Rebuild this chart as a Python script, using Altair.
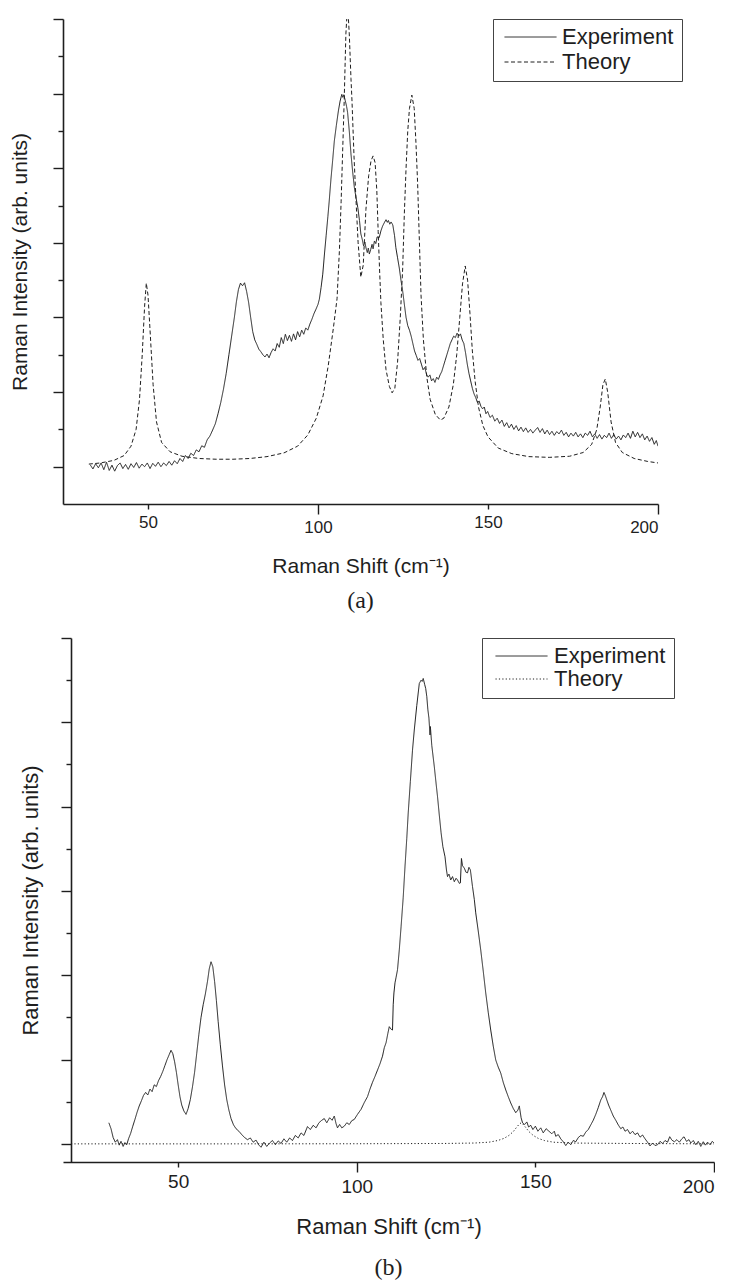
import altair as alt
import pandas as pd

# ---------------- data ----------------
# Panel (a): experiment
top_exp_x = [33.0, 33.8, 34.6, 35.4, 36.2, 37.0, 37.8, 38.6, 39.4, 40.2, 41.0, 41.8, 42.6, 43.4, 44.2, 45.0, 45.8,
             46.6, 47.4, 48.2, 49.0, 49.8, 50.6, 51.4, 52.2, 53.0, 53.8, 54.6, 55.4, 56.2, 57.0, 57.8, 58.6, 59.4,
             60.2, 61.0, 61.8, 62.6, 63.4, 64.2, 65.0, 65.8, 66.6, 67.4, 68.2, 69.0, 69.8, 70.6, 71.4, 72.2, 73.0,
             73.8, 74.6, 75.4, 76.0, 76.6, 77.2, 77.8, 78.4, 79.0, 79.6, 80.2, 80.8, 81.4, 82.0, 82.6, 83.2, 83.8,
             84.4, 85.0, 85.6, 86.2, 86.8, 87.4, 88.0, 88.6, 89.2, 89.8, 90.4, 91.0, 91.6, 92.2, 92.8, 93.4, 94.0,
             94.6, 95.2, 95.8, 96.4, 97.0, 97.6, 98.2, 98.8, 99.4, 100.0, 100.4, 100.9, 101.4, 101.9, 102.4, 102.9,
             103.3, 103.8, 104.3, 104.8, 105.4, 106.0, 106.5, 107.0, 107.3, 107.6, 108.0, 108.4, 108.7, 109.2, 109.7,
             110.2, 110.7, 111.2, 111.7, 112.2, 112.6, 113.0, 113.4, 113.8, 114.1, 114.5, 114.8, 115.1, 115.5, 115.9,
             116.2, 116.6, 117.0, 117.4, 118.0, 118.5, 119.0, 119.5, 120.0, 120.4, 120.7, 121.1, 121.5, 122.0, 122.5,
             122.9, 123.4, 123.9, 124.4, 124.9, 125.4, 125.9, 126.4, 126.9, 127.4, 127.9, 128.4, 128.9, 129.4, 129.9,
             130.4, 130.9, 131.4, 131.9, 132.4, 132.9, 133.4, 133.9, 134.4, 134.9, 135.4, 135.9, 136.4, 136.9, 137.4,
             137.9, 138.4, 138.9, 139.4, 139.9, 140.4, 140.9, 141.4, 141.9, 142.4, 142.9, 143.4, 143.9, 144.4, 144.9,
             145.4, 145.9, 146.4, 146.9, 147.4, 147.9, 148.4, 148.9, 149.4, 149.9, 150.6, 151.3, 152.0, 152.7, 153.4,
             154.1, 154.8, 155.5, 156.2, 156.9, 157.6, 158.3, 159.0, 159.7, 160.4, 161.1, 161.8, 162.5, 163.2, 163.9,
             164.6, 165.3, 166.0, 166.7, 167.4, 168.1, 168.8, 169.5, 170.2, 170.9, 171.6, 172.3, 173.0, 173.7, 174.4,
             175.1, 175.8, 176.5, 177.2, 177.9, 178.6, 179.3, 180.0, 180.7, 181.4, 182.1, 182.8, 183.5, 184.2, 184.9,
             185.6, 186.3, 187.0, 187.7, 188.4, 189.1, 189.8, 190.5, 191.2, 191.9, 192.6, 193.3, 194.0, 194.7, 195.4,
             196.1, 196.8, 197.5, 198.2, 198.9, 199.5, 200.0]
top_exp_y = [0.05, -0.06, 0.08, -0.03, 0.1, -0.08, 0.12, -0.1, 0.04, -0.12, 0.03, 0.1, -0.05, 0.06, -0.07, 0.08, -0.02,
             0.11, -0.04, 0.07, 0.0, 0.1, -0.05, 0.09, 0.01, 0.12, 0.0, 0.1, 0.03, 0.14, 0.04, 0.16, 0.08, 0.22,
             0.14, 0.3, 0.22, 0.36, 0.3, 0.45, 0.4, 0.56, 0.52, 0.72, 0.82, 0.98, 1.15, 1.42, 1.72, 2.08, 2.5,
             3.0, 3.5, 4.0, 4.42, 4.75, 4.92, 4.85, 4.93, 4.7, 4.4, 4.0, 3.62, 3.4, 3.28, 3.15, 3.08, 3.0,
             2.94, 3.02, 2.92, 3.06, 3.16, 3.1, 3.3, 3.2, 3.46, 3.3, 3.55, 3.38, 3.52, 3.36, 3.56, 3.4, 3.62,
             3.48, 3.66, 3.55, 3.72, 3.66, 3.82, 3.95, 4.1, 4.22, 4.35, 4.49, 4.8, 5.16, 5.7, 6.2, 6.7,
             7.12, 7.7, 8.2, 8.73, 9.15, 9.54, 9.8, 9.98, 9.9, 9.97, 9.82, 9.66, 9.5, 9.0, 8.38,
             7.9, 7.48, 7.2, 6.95, 6.6, 6.24, 6.1, 5.92, 6.02, 5.87, 5.74, 5.86, 5.7, 5.82, 5.96,
             5.84, 6.05, 5.98, 6.16, 6.14, 6.32, 6.45, 6.54, 6.62, 6.55, 6.6, 6.5, 6.56, 6.48, 6.2,
             5.87, 5.6, 5.33, 5.0, 4.71, 4.35, 4.0, 3.78, 3.66, 3.5, 3.3, 3.1, 2.98, 2.85, 2.9,
             2.75, 2.6, 2.66, 2.48, 2.4, 2.46, 2.3, 2.36, 2.26, 2.4, 2.34, 2.46, 2.55, 2.7, 2.85,
             3.0, 3.15, 3.3, 3.4, 3.5, 3.46, 3.58, 3.5, 3.56, 3.4, 3.3, 3.05, 2.75, 2.5, 2.3,
             2.1, 1.95, 1.85, 1.72, 1.76, 1.62, 1.55, 1.6, 1.42, 1.48, 1.32, 1.38, 1.22, 1.3, 1.16,
             1.25, 1.08, 1.18, 1.04, 1.14, 1.0, 1.1, 0.96, 1.06, 0.94, 1.04, 0.92, 1.0, 0.9, 0.98,
             1.05, 0.92, 1.02, 0.88, 0.98, 0.86, 0.95, 0.84, 0.94, 0.88, 0.98, 0.84, 0.92, 0.8, 0.9,
             0.82, 0.92, 0.8, 0.88, 0.78, 0.9, 0.84, 0.95, 0.8, 0.88, 0.76, 0.86, 0.74, 0.84, 0.78,
             0.9, 0.76, 0.86, 0.74, 0.82, 0.72, 0.85, 0.78, 0.9, 0.76, 0.95, 0.8, 0.92, 0.78, 0.88,
             0.72, 0.82, 0.68, 0.78, 0.6, 0.7, 0.55]

# Panel (a): theory
top_th_x = [32.6, 36.0, 40.0, 43.0, 45.0, 46.5, 47.5, 48.3, 49.0, 49.5, 50.0, 50.7, 51.5, 52.5, 54.0, 56.5, 60.0,
            65.0, 70.0, 75.0, 80.0, 85.0, 90.0, 94.0, 97.0, 99.5, 101.5, 103.0, 104.5, 105.6, 106.3, 106.8, 107.3,
            107.7, 108.2, 108.7, 109.2, 109.7, 110.0, 110.6, 111.2, 111.8, 112.6, 113.3, 114.1, 114.9, 115.6, 116.2,
            116.8, 117.3, 117.7, 118.1, 118.5, 119.2, 120.0, 121.0, 121.8, 122.6, 123.4, 124.2, 124.9, 125.4, 125.9,
            126.4, 126.9, 127.6, 128.3, 128.8, 129.3, 129.8, 130.3, 131.0, 132.0, 133.0, 134.5, 136.0, 137.0, 138.5,
            139.8, 140.8, 141.7, 142.5, 143.3, 144.0, 144.7, 145.4, 146.2, 147.2, 148.5, 150.0, 153.0, 157.0, 162.0,
            168.0, 174.0, 178.0, 180.5, 182.0, 183.0, 183.8, 184.5, 185.2, 186.2, 187.5, 189.5, 193.0, 197.0, 200.0]
top_th_y = [0.07, 0.1, 0.17, 0.3, 0.55, 1.0, 1.8, 3.0, 4.3, 4.92, 4.6, 3.5, 2.2, 1.2, 0.65, 0.4, 0.28,
            0.22, 0.2, 0.2, 0.22, 0.27, 0.37, 0.55, 0.85, 1.3, 1.9, 2.7, 3.7, 4.5, 5.8, 7.1, 8.6,
            9.8, 11.6, 12.4, 11.6, 10.4, 9.8, 8.3, 7.1, 6.0, 5.08, 5.4, 6.9, 7.8, 8.2, 8.33,
            8.15, 7.4, 6.3, 5.3, 4.4, 3.4, 2.6, 2.15, 1.98, 2.1, 2.8, 4.0, 5.3, 6.8, 8.0,
            9.0, 9.6, 9.96, 9.6, 8.7, 7.6, 6.1, 4.6, 3.4, 2.4, 1.8, 1.4, 1.25, 1.3, 1.6,
            2.2, 3.0, 4.0, 4.9, 5.38, 5.0, 4.1, 3.1, 2.3, 1.6, 1.1, 0.8, 0.5, 0.35, 0.27,
            0.25, 0.28, 0.38, 0.6, 1.0, 1.6, 2.2, 2.35, 2.0, 1.2, 0.65, 0.38, 0.22, 0.14, 0.1]

# Panel (b): experiment
bot_exp_x = [30.6, 31.2, 31.8, 32.4, 33.0, 33.5, 34.0, 34.6, 35.1, 35.6, 36.1, 36.7, 37.3, 37.9, 38.5, 39.1, 39.7,
             40.3, 40.9, 41.5, 42.1, 42.7, 43.3, 43.9, 44.5, 45.1, 45.7, 46.3, 46.9, 47.5, 48.0, 48.5, 49.0, 49.5,
             50.0, 50.5, 51.0, 51.6, 52.2, 52.8, 53.4, 54.0, 54.6, 55.2, 55.8, 56.4, 57.0, 57.6, 58.2, 58.7, 59.2,
             59.7, 60.2, 60.7, 61.2, 61.8, 62.4, 63.0, 63.6, 64.2, 64.8, 65.5, 66.2, 67.0, 67.8, 68.6, 69.4, 70.2,
             71.0, 71.8, 72.5, 73.2, 74.0, 74.8, 75.6, 76.4, 77.2, 78.0, 78.8, 79.6, 80.4, 81.2, 82.0, 82.8, 83.6,
             84.4, 85.2, 86.2, 87.0, 87.8, 88.6, 89.4, 90.2, 90.9, 91.6, 92.4, 93.1, 93.7, 94.2, 94.6, 95.2, 95.8,
             96.5, 97.2, 97.9, 98.6, 99.3, 100.2, 101.2, 102.1, 103.0, 103.7, 104.4, 105.1, 105.8, 106.5, 107.2,
             107.7, 108.2, 108.7, 109.1, 109.6, 110.0, 110.2, 110.4, 110.7, 111.0, 111.4, 111.9, 112.4, 113.0, 113.5,
             114.0, 114.4, 115.0, 115.6, 116.1, 116.8, 117.5, 118.0, 118.3, 118.6, 119.0, 119.3, 119.6, 119.9, 120.2,
             120.5, 120.6, 121.0, 121.7, 122.2, 122.6, 123.1, 123.6, 124.1, 124.7, 125.1, 125.4, 125.8, 126.3, 126.8,
             127.3, 127.8, 128.2, 128.7, 129.0, 129.3, 129.6, 130.1, 130.6, 131.0, 131.4, 131.8, 132.4, 132.9, 133.3,
             134.0, 134.7, 135.4, 136.1, 136.8, 137.5, 138.2, 138.9, 139.6, 140.3, 141.0, 141.7, 142.4, 143.1, 143.8,
             144.5, 145.1, 145.5, 146.0, 146.4, 147.0, 147.6, 148.1, 148.7, 149.3, 150.0, 150.7, 151.5, 152.2, 153.0,
             153.8, 154.6, 155.3, 155.7, 156.4, 157.1, 157.8, 158.5, 159.2, 159.9, 160.6, 161.3, 162.0, 162.7, 163.4,
             164.1, 164.8, 165.5, 166.2, 166.9, 167.6, 168.3, 168.8, 169.2, 169.6, 170.0, 170.5, 171.1, 171.8, 172.5,
             173.2, 173.9, 174.5, 175.1, 175.8, 176.5, 177.2, 177.9, 178.6, 179.3, 180.0, 180.7, 181.4, 182.1, 182.8,
             183.5, 184.2, 184.9, 185.6, 186.3, 187.0, 187.6, 188.2, 188.9, 189.6, 190.3, 191.0, 191.6, 192.3, 193.0,
             193.5, 194.2, 194.9, 195.6, 196.3, 197.0, 197.6, 198.2, 198.9, 199.5, 200.0]
bot_exp_y = [0.5, 0.36, 0.15, 0.04, 0.1, -0.03, 0.06, -0.06, 0.03, -0.02, 0.12, 0.25, 0.42, 0.58, 0.75, 0.9, 1.02,
             1.15, 1.22, 1.16, 1.3, 1.24, 1.4, 1.36, 1.5, 1.6, 1.72, 1.86, 2.0, 2.12, 2.22, 2.14, 1.95, 1.7,
             1.4, 1.12, 0.92, 0.78, 0.7, 0.84, 1.05, 1.35, 1.7, 2.15, 2.6, 3.0, 3.3, 3.55, 3.85, 4.15, 4.32,
             4.2, 3.85, 3.4, 2.9, 2.35, 1.85, 1.4, 1.05, 0.8, 0.6, 0.45, 0.36, 0.3, 0.22, 0.15, 0.1, 0.14,
             0.04, 0.09, -0.02, -0.08, 0.04, -0.06, 0.02, 0.08, -0.02, 0.07, 0.01, 0.12, 0.04, 0.14, 0.08, 0.2, 0.14,
             0.26, 0.2, 0.41, 0.34, 0.44, 0.38, 0.5, 0.56, 0.6, 0.5, 0.62, 0.56, 0.66, 0.48, 0.38, 0.46, 0.38,
             0.42, 0.5, 0.46, 0.55, 0.58, 0.7, 0.82, 0.98, 1.12, 1.3, 1.46, 1.6, 1.75, 1.9, 2.08,
             2.28, 2.4, 2.62, 2.78, 2.72, 2.7, 3.3, 3.58, 3.82, 3.95, 4.13, 4.6, 5.15, 5.85, 6.58,
             7.25, 7.85, 8.6, 9.34, 9.82, 10.4, 10.92, 11.0, 10.97, 11.04, 10.9, 10.8, 10.61, 10.3, 10.1,
             9.7, 9.9, 9.45, 8.95, 8.55, 8.24, 7.8, 7.38, 7.05, 6.81, 6.5, 6.34, 6.4, 6.26, 6.34,
             6.22, 6.3, 6.26, 6.18, 6.19, 6.77, 6.6, 6.54, 6.44, 6.43, 6.56, 6.5, 6.1, 5.8, 5.48,
             5.05, 4.6, 4.1, 3.58, 3.12, 2.7, 2.32, 1.99, 1.82, 1.68, 1.46, 1.28, 1.12, 0.97, 0.84,
             0.74, 0.8, 0.9, 0.62, 0.5, 0.46, 0.52, 0.4, 0.44, 0.34, 0.42, 0.3, 0.38, 0.26, 0.36,
             0.3, 0.24, 0.3, 0.18, 0.22, 0.12, 0.05, -0.04, 0.04, -0.02, 0.08, 0.05, 0.15, 0.2, 0.18,
             0.28, 0.34, 0.45, 0.56, 0.7, 0.86, 1.04, 1.12, 1.22, 1.14, 1.04, 0.92, 0.8, 0.66, 0.56,
             0.45, 0.36, 0.4, 0.3, 0.34, 0.24, 0.3, 0.22, 0.26, 0.16, 0.21, 0.12, 0.04, -0.05, 0.02,
             -0.04, -0.02, 0.06, 0.01, 0.08, 0.04, 0.17, 0.09, 0.05, 0.1, 0.04, 0.12, 0.17, 0.06, 0.1,
             0.02, 0.08, -0.02, 0.06, -0.06, 0.05, -0.03, 0.04, -0.02, 0.06, 0.02]

# Panel (b): theory
bot_th_x = [20.0, 60.0, 100.0, 125.0, 133.0, 137.0, 139.5, 141.2, 142.6, 143.8, 144.8, 145.5, 146.0, 146.5,
            147.2, 148.2, 149.4, 150.8, 152.5, 155.0, 160.0, 175.0, 200.0]
bot_th_y = [0.0, 0.0, 0.003, 0.01, 0.02, 0.04, 0.08, 0.13, 0.2, 0.29, 0.4, 0.47, 0.5, 0.47,
            0.4, 0.29, 0.2, 0.13, 0.08, 0.04, 0.02, 0.01, 0.0]

series_names = ["Experiment", "Theory"]
x_title = "Raman Shift (cm⁻¹)"
y_title = "Raman Intensity (arb. units)"


def frame(xs, ys, name):
    return pd.DataFrame({"shift": xs, "intensity": ys, "series": name})


top_df = pd.concat([frame(top_exp_x, top_exp_y, "Experiment"),
                    frame(top_th_x, top_th_y, "Theory")], ignore_index=True)
bot_df = pd.concat([frame(bot_exp_x, bot_exp_y, "Experiment"),
                    frame(bot_th_x, bot_th_y, "Theory")], ignore_index=True)

FONT = "Liberation Sans"
INK = "#1e1e1e"


def cond(test, big, small):
    return {"condition": {"test": test, "value": big}, "value": small}


def panel(df, xdom, ydom, w, h, dashes, legend_x, lab_size, title_size, leg_size,
          leg_pad, sym_off, lab_off, clip_h, row_pad, y_offset, y_title_pad,
          caption, cap_off):
    return alt.Chart(df).mark_line(strokeWidth=1, color=INK, clip=True).encode(
        x=alt.X("shift:Q",
                scale=alt.Scale(domain=xdom, nice=False, zero=False),
                axis=alt.Axis(values=[50, 100, 150, 200], title=x_title,
                              tickSize=cond("datum.value % 100 === 0", 10, 5),
                              labelFontSize=lab_size, titleFontSize=title_size,
                              labelPadding=5, titlePadding=20)),
        y=alt.Y("intensity:Q",
                scale=alt.Scale(domain=ydom, nice=False, zero=False),
                axis=alt.Axis(values=list(range(13)), labels=False, title=y_title,
                              tickSize=cond("datum.value % 2 === 0", 10, 5),
                              titleFontSize=title_size, titlePadding=y_title_pad,
                              offset=y_offset)),
        strokeDash=alt.StrokeDash(
            "series:N",
            scale=alt.Scale(domain=series_names, range=dashes),
            legend=alt.Legend(title=None, orient="none", legendX=legend_x, legendY=0,
                              direction="vertical", symbolType="stroke", symbolSize=2704,
                              symbolStrokeWidth=1, symbolStrokeColor=INK,
                              symbolOffset=sym_off, clipHeight=clip_h, rowPadding=row_pad,
                              labelFontSize=leg_size, labelFont=FONT, labelColor=INK,
                              labelOffset=lab_off, padding=leg_pad, strokeColor="#444444",
                              fillColor="white", cornerRadius=0, labelLimit=0)),
    ).properties(
        width=w, height=h,
        title=alt.TitleParams(caption, orient="bottom", frame="group", anchor="middle",
                              font="Liberation Serif", fontSize=24, fontWeight="normal",
                              color=INK, offset=cap_off),
    )


top = panel(top_df, [25, 200], [-1, 12], 595, 485, [[1, 0], [4, 2.5]], 430,
            17, 21, 22, 8, 3, 5, 20, 3, 0, 22, "(a)", 13)
bottom = panel(bot_df, [17.76, 200], [-0.43, 12], 651, 524, [[1, 0], [1.2, 2.2]], 419,
               19, 22, 22, 8, 5, 6, 20, 1, -8, 18, "(b)", 19)

chart = alt.vconcat(top, bottom, spacing=24).resolve_scale(
    x="independent", y="independent", strokeDash="independent"
).resolve_legend(strokeDash="independent").configure_view(stroke=None).configure_axis(
    grid=False, domainColor=INK, domainWidth=1.6, tickColor=INK, tickWidth=1.4,
    labelColor=INK, titleColor=INK, labelFont=FONT, titleFont=FONT, titleFontWeight="normal"
).properties(padding={"left": 9, "top": 18, "right": 0, "bottom": 0}, background="white")

chart.save("out.html", embed_options={"renderer": "svg", "actions": False})
